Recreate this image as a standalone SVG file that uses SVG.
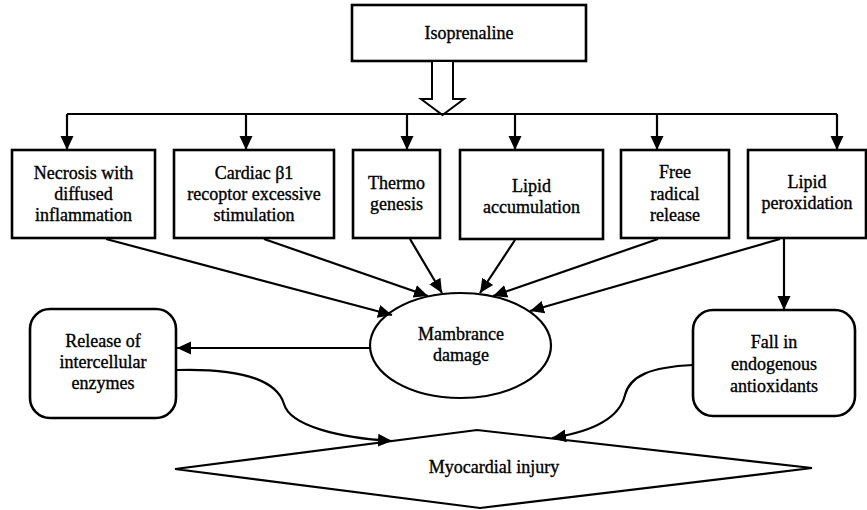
<svg xmlns="http://www.w3.org/2000/svg" width="867" height="510" viewBox="0 0 867 510">
<style>
.box{fill:#fff;stroke:#000;stroke-width:2.6}
.thin{fill:#fff;stroke:#000;stroke-width:2.2}
.ln{fill:none;stroke:#000;stroke-width:2.2}
text{font-family:"Liberation Serif","Times New Roman",serif;font-size:18px;fill:#000;stroke:#000;stroke-width:0.35;text-anchor:middle}
</style>
<defs>
<marker id="ah" markerUnits="userSpaceOnUse" markerWidth="15" markerHeight="15" viewBox="0 0 15 15" refX="14" refY="7.5" orient="auto">
<path d="M0,1 L14,7.5 L0,14 z" fill="#000"/>
</marker>
</defs>
<g id="isoprenaline">
<rect class="box" x="352" y="5" width="234" height="56"/>
<text x="469" y="39">Isoprenaline</text>
</g>
<g id="necrosis">
<rect class="box" x="12" y="150" width="143" height="88"/>
<text x="83.5" y="179">Necrosis with</text>
<text x="83.5" y="200">diffused</text>
<text x="83.5" y="221">inflammation</text>
</g>
<g id="cardiac">
<rect class="box" x="174" y="150" width="160" height="88"/>
<text x="254" y="179">Cardiac β1</text>
<text x="254" y="200">recoptor excessive</text>
<text x="254" y="221">stimulation</text>
</g>
<g id="thermo">
<rect class="box" x="353" y="150" width="87" height="88"/>
<text x="396.5" y="189">Thermo</text>
<text x="396.5" y="210">genesis</text>
</g>
<g id="lipid-accumulation">
<rect class="box" x="460" y="150" width="143" height="89"/>
<text x="531.5" y="192">Lipid</text>
<text x="531.5" y="213">accumulation</text>
</g>
<g id="free-radical">
<rect class="box" x="621" y="150" width="108" height="88"/>
<text x="675" y="178">Free</text>
<text x="675" y="200">radical</text>
<text x="675" y="221">release</text>
</g>
<g id="lipid-peroxidation">
<rect class="box" x="748" y="150" width="118" height="88"/>
<text x="807" y="188">Lipid</text>
<text x="807" y="209">peroxidation</text>
</g>
<g id="release">
<rect class="box" x="30" y="309" width="146" height="109" rx="20" ry="20"/>
<text x="103" y="347">Release of</text>
<text x="103" y="368">intercellular</text>
<text x="103" y="389">enzymes</text>
</g>
<g id="membrane">
<ellipse class="thin" cx="460.5" cy="345.5" rx="90.5" ry="52.5"/>
<text x="461" y="340">Mambrance</text>
<text x="461" y="361">damage</text>
</g>
<g id="fall">
<rect class="box" x="693" y="310" width="162" height="106" rx="20" ry="20"/>
<text x="774" y="348">Fall in</text>
<text x="774" y="370">endogenous</text>
<text x="774" y="392">antioxidants</text>
</g>
<g id="myocardial">
<polygon class="thin" points="175,469 477,430 812,468 480,508"/>
<text x="494" y="473">Myocardial injury</text>
</g>
<g id="connectors">
<polygon points="432,61 453,61 453,99 464,99 442.5,115 421,99 432,99" fill="#fff" stroke="#000" stroke-width="2"/>
<line class="ln" x1="67" y1="114" x2="837" y2="114"/>
<line class="ln" x1="67" y1="114" x2="67" y2="150" marker-end="url(#ah)"/>
<line class="ln" x1="246" y1="114" x2="246" y2="150" marker-end="url(#ah)"/>
<line class="ln" x1="407" y1="114" x2="407" y2="150" marker-end="url(#ah)"/>
<line class="ln" x1="515" y1="114" x2="515" y2="150" marker-end="url(#ah)"/>
<line class="ln" x1="657" y1="114" x2="657" y2="150" marker-end="url(#ah)"/>
<line class="ln" x1="837" y1="114" x2="837" y2="150" marker-end="url(#ah)"/>
<line class="ln" x1="106" y1="239" x2="392" y2="315" marker-end="url(#ah)"/>
<line class="ln" x1="264" y1="239" x2="428" y2="296" marker-end="url(#ah)"/>
<line class="ln" x1="410" y1="239" x2="442" y2="293" marker-end="url(#ah)"/>
<line class="ln" x1="515" y1="240" x2="480" y2="293" marker-end="url(#ah)"/>
<line class="ln" x1="658" y1="239" x2="493" y2="296" marker-end="url(#ah)"/>
<line class="ln" x1="780" y1="239" x2="530" y2="311" marker-end="url(#ah)"/>
<line class="ln" x1="784" y1="239" x2="784" y2="310" marker-end="url(#ah)"/>
<line class="ln" x1="370" y1="348" x2="177" y2="348" marker-end="url(#ah)"/>
<path class="ln" d="M177,370 C250,368 278,384 284,404 C290,426 340,438 392,441" marker-end="url(#ah)"/>
<path class="ln" d="M693,365 C650,367 630,376 625,395 C619,420 590,432 552,438" marker-end="url(#ah)"/>
</g>
</svg>
